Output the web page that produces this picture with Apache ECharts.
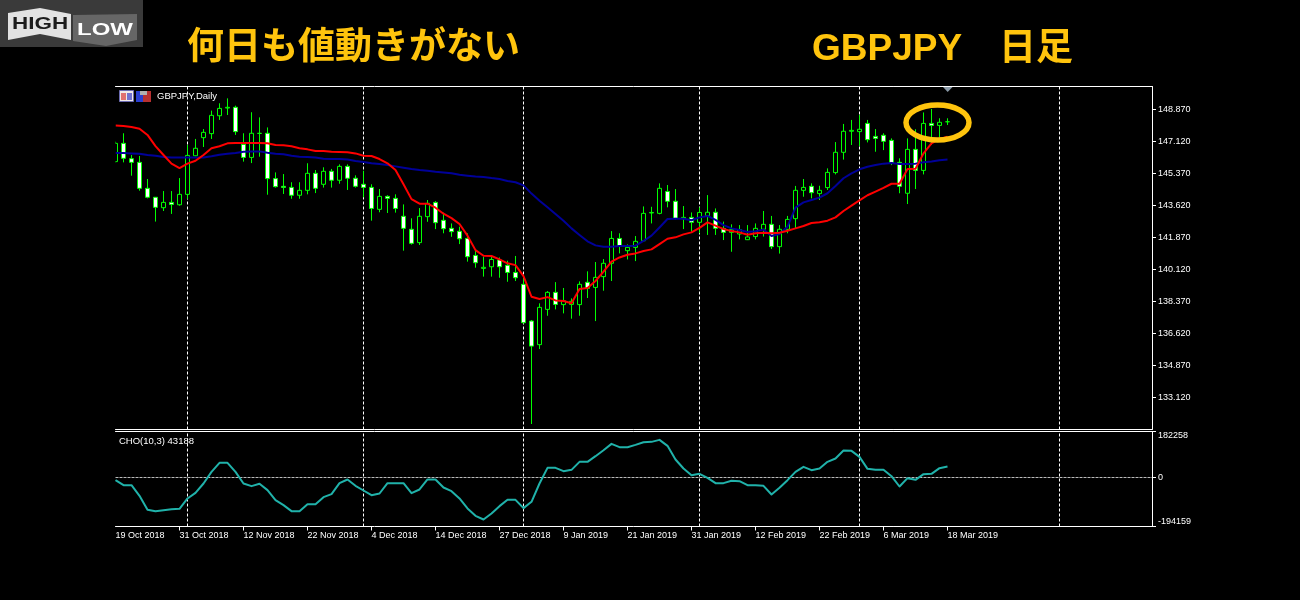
<!DOCTYPE html>
<html><head><meta charset="utf-8">
<style>html,body{margin:0;padding:0;background:#000}#c{width:1300px;height:600px}</style>
<script src="https://cdn.jsdelivr.net/npm/echarts@6/dist/echarts.min.js"></script>
</head><body><div id="c"></div>
<script>
const opens=[146.02,147.02,146.18,145.98,144.56,144.07,143.50,143.79,143.66,144.23,146.34,147.33,147.55,148.53,148.95,148.99,146.96,146.25,147.56,147.57,145.09,144.67,144.61,144.18,144.45,145.38,144.78,145.49,145.00,145.76,145.11,144.78,144.61,143.41,144.12,144.01,143.03,142.32,141.59,143.01,143.79,142.81,142.37,142.21,141.82,140.89,140.18,140.27,140.64,140.35,139.96,139.31,137.30,136.01,137.94,138.87,138.20,138.21,138.20,139.42,139.14,139.73,140.46,141.82,141.15,141.33,141.69,143.21,143.19,144.39,143.85,142.90,142.97,142.70,143.06,143.25,142.37,142.15,142.06,141.75,141.92,142.32,142.59,141.37,142.32,142.90,144.45,144.67,144.27,144.60,145.42,146.53,147.68,147.66,148.11,147.40,147.46,147.18,145.98,144.29,146.69,145.54,148.11,148.00,148.20];
const closes=[147.02,146.20,145.98,144.56,144.07,143.52,143.79,143.68,144.23,146.36,146.75,147.62,148.55,148.93,148.99,147.66,146.25,147.57,147.57,145.09,144.65,144.61,144.18,144.45,145.38,144.56,145.49,145.00,145.76,145.11,144.67,144.61,143.46,144.12,144.01,143.46,142.37,141.55,143.03,143.74,142.68,142.35,142.19,141.80,140.82,140.49,140.24,140.67,140.27,139.96,139.67,137.21,135.93,138.05,138.87,138.21,138.41,138.38,139.31,139.09,139.69,140.46,141.82,141.39,141.33,141.66,143.19,143.24,144.56,143.85,142.92,142.97,142.70,143.24,143.25,142.37,142.15,142.30,142.30,141.90,142.37,142.59,141.37,142.32,142.86,144.45,144.61,144.32,144.45,145.43,146.53,147.68,147.73,147.79,147.22,147.29,147.13,145.93,144.67,146.69,145.54,148.11,148.00,148.17,148.20];
const lows=[145.98,145.98,145.25,144.43,144.01,142.74,143.32,143.16,143.61,143.98,146.31,146.82,147.26,148.30,148.57,147.48,146.02,145.94,146.29,144.21,144.60,144.25,143.99,143.99,144.23,144.30,144.60,144.60,144.81,144.47,144.60,144.07,142.79,143.25,143.21,143.23,141.15,141.48,141.46,142.73,142.33,142.10,141.91,141.51,140.55,140.22,139.73,139.73,139.67,139.45,139.49,137.17,131.67,135.77,137.59,137.94,137.72,137.43,137.59,138.56,137.30,138.96,139.49,141.00,140.67,140.58,141.66,142.64,143.14,143.52,142.86,142.33,142.19,142.10,142.01,142.01,141.73,141.09,141.77,141.73,141.77,141.92,141.24,140.99,142.10,142.37,144.10,144.01,143.92,144.47,145.32,146.13,146.93,146.87,147.07,146.56,146.65,145.83,144.29,143.70,144.52,145.32,146.93,147.35,148.02];
const highs=[147.11,147.57,146.38,146.33,145.07,144.07,144.41,144.41,145.12,146.93,147.26,147.80,148.81,149.21,149.48,149.08,147.57,148.72,148.44,147.89,145.43,145.34,144.89,144.89,145.93,145.56,145.71,145.62,145.87,145.87,145.27,145.52,144.78,144.52,144.18,144.23,143.68,142.92,143.48,143.92,143.86,143.23,142.64,142.46,142.10,141.18,140.82,140.91,140.78,140.60,140.86,139.64,137.36,138.27,138.94,139.43,139.11,138.54,139.47,140.02,140.53,140.69,142.22,142.10,141.49,141.95,143.57,143.55,144.83,144.74,144.52,143.59,143.24,143.52,144.19,143.46,142.74,142.59,142.55,142.55,142.64,143.32,143.05,142.55,143.05,144.69,145.07,144.83,144.70,145.65,147.09,148.08,148.30,148.57,148.30,147.80,147.57,147.29,146.20,147.29,147.79,148.71,148.90,148.39,148.39];
const redLine=[147.99,147.97,147.91,147.82,147.48,146.87,146.38,145.91,145.67,145.91,146.07,146.38,146.75,146.86,147.02,147.04,147.04,147.04,147.04,147.02,146.93,146.91,146.86,146.75,146.69,146.60,146.60,146.56,146.55,146.53,146.47,146.34,146.33,146.16,145.93,145.56,144.78,143.97,143.72,143.72,143.50,143.17,142.93,142.61,141.97,141.18,140.87,140.86,140.67,140.46,140.36,139.76,138.63,138.51,138.61,138.43,138.40,138.27,139.05,139.11,139.49,140.00,140.55,140.78,140.93,141.00,141.13,141.22,141.51,141.80,141.88,142.04,142.15,142.40,142.70,142.52,142.33,142.22,142.15,142.02,142.10,142.13,142.10,142.13,142.24,142.37,142.50,142.66,142.70,142.79,142.97,143.32,143.61,143.90,144.18,144.38,144.58,144.81,144.81,145.62,145.63,146.47,147.02,147.26,147.38];
const blueLine=[146.49,146.49,146.47,146.45,146.38,146.34,146.27,146.24,146.24,146.24,146.24,146.25,146.31,146.40,146.45,146.49,146.56,146.58,146.58,146.51,146.45,146.42,146.34,146.29,146.27,146.24,146.18,146.16,146.16,146.13,146.05,146.00,145.93,145.89,145.83,145.76,145.69,145.62,145.56,145.52,145.47,145.43,145.38,145.30,145.25,145.20,145.18,145.12,145.07,144.96,144.89,144.72,144.27,143.88,143.52,143.15,142.79,142.37,142.01,141.66,141.44,141.37,141.37,141.40,141.40,141.42,141.68,141.97,142.42,142.88,142.90,142.90,142.81,142.97,143.05,142.83,142.55,142.37,142.28,142.17,142.21,142.30,141.95,142.06,142.46,143.50,143.79,143.92,144.05,144.29,144.69,145.11,145.38,145.60,145.74,145.83,145.91,145.94,145.89,145.89,145.91,145.98,146.03,146.09,146.13];
const choLine=[-10560,-30360,-30360,-72600,-128040,-133320,-129360,-125400,-124080,-83160,-60720,-23760,22440,58080,58080,22440,-23760,-34320,-25080,-50160,-89760,-109560,-133320,-133320,-105600,-105600,-77880,-66000,-22440,-7920,-33000,-51480,-69960,-63360,-22440,-22440,-22440,-62040,-47520,-7920,-7920,-39600,-54120,-83160,-122760,-151800,-166320,-142560,-113520,-88440,-88440,-121440,-96360,-23760,38280,38280,25080,30360,62040,62040,84480,108240,133320,120120,120120,129360,139920,141240,149160,125400,71280,35640,9240,14520,-1320,-22440,-22440,-13200,-14520,-30360,-30360,-33000,-67320,-40920,-10560,22440,42240,29040,35640,62040,75240,106920,105600,81840,34320,30360,30360,5280,-35640,-2640,-9240,13200,14520,36960,43188];
const dateLabels=['19 Oct 2018','31 Oct 2018','12 Nov 2018','22 Nov 2018','4 Dec 2018','14 Dec 2018','27 Dec 2018','9 Jan 2019','21 Jan 2019','31 Jan 2019','12 Feb 2019','22 Feb 2019','6 Mar 2019','18 Mar 2019'];
const dateBars=[0,8,16,24,32,40,48,56,64,72,80,88,96,104];
const separatorBars=[9,31,51,73,93,118];
const priceTicks=[148.87,147.12,145.37,143.62,141.87,140.12,138.37,136.62,134.87,133.12];
const choTicks=[182258,0,-194159];

const W='#ffffff',FONT='"Liberation Sans"',FS=9;
const xMax=129.5625;
const xBase=(gridIndex,position,extra)=>Object.assign({type:'value',gridIndex,position,min:0,max:xMax,
  splitLine:{show:false},axisTick:{show:false},axisLabel:{show:false},
  axisLine:{show:true,onZero:false,lineStyle:{color:W,width:1}}},extra||{});
const yBase=(gridIndex,min,max,ticks,fmt,extra)=>({type:'value',gridIndex,position:'right',min,max,
  splitLine:{show:false},
  axisLine:{show:true,onZero:false,lineStyle:{color:W,width:1}},
  axisTick:{show:true,length:4,customValues:ticks,lineStyle:{color:W}},
  axisLabel:Object.assign({show:true,customValues:ticks,formatter:fmt,color:W,fontFamily:FONT,fontSize:FS,margin:6,align:'left'},extra||{})});
const sep=()=>({silent:true,symbol:'none',z:1,animation:false,label:{show:false},
  lineStyle:{color:W,type:[3,2],width:1},data:separatorBars.map(x=>({xAxis:x}))});
const pts=a=>a.map((v,i)=>[i,v]);
const lineS=(name,xi,yi,data,color,z)=>({name,type:'line',xAxisIndex:xi,yAxisIndex:yi,data:pts(data),showSymbol:false,symbol:'none',
  z,clip:true,lineStyle:{color,width:2,join:'round'},itemStyle:{color},animation:false});
const T=(text,left,top,size,color,weight,family)=>({text,left,top,padding:0,textStyle:{color,fontSize:size,fontWeight:weight||'normal',fontFamily:family||FONT}});

const GOLD='#ffc40d';
const option={
  backgroundColor:'#000',animation:false,
  title:[
    T('何日も値動きがない',187,26,37,GOLD,'bold','"Noto Sans CJK JP"'),
    T('GBPJPY　日足',812,31,37,GOLD,'bold','"Liberation Sans","Noto Sans CJK JP"'),
    T('GBPJPY,Daily',157,91.5,9.5,W),
    T('CHO(10,3) 43188',119,436.5,9.5,W)
  ],
  grid:[
    {left:115.5,width:1036.5,top:86.5,height:343},
    {left:115.5,width:1036.5,top:431.5,height:95}
  ],
  xAxis:[
    xBase(0,'bottom'),
    xBase(0,'top'),
    xBase(1,'bottom',{
      axisTick:{show:true,length:4,customValues:dateBars.slice(1),lineStyle:{color:W}},
      axisLabel:{show:true,customValues:dateBars,formatter:v=>dateLabels[dateBars.indexOf(v)]||'',color:W,fontFamily:FONT,fontSize:FS,margin:5,align:'left'}}),
    xBase(1,'top')
  ],
  yAxis:[
    yBase(0,131.37,150.128,priceTicks,v=>v.toFixed(3)),
    yBase(1,-194159,182258,choTicks,v=>String(v),{verticalAlignMaxLabel:'bottom',verticalAlignMinLabel:'top'})
  ],
  series:[
    {type:'line',xAxisIndex:0,yAxisIndex:0,data:[],z:1,markLine:sep()},
    {type:'line',xAxisIndex:2,yAxisIndex:1,data:[],z:1,markLine:sep()},
    {type:'line',xAxisIndex:2,yAxisIndex:1,data:[],z:1,markLine:{silent:true,symbol:'none',z:1,animation:false,label:{show:false},
      lineStyle:{color:'#bbbbbb',type:[3,1],width:1},data:[{yAxis:0}]}},
    {name:'GBPJPY',type:'candlestick',xAxisIndex:0,yAxisIndex:0,z:3,barWidth:4,clip:true,animation:false,
      data:opens.map((o,i)=>[i,o,closes[i],lows[i],highs[i]]),
      itemStyle:{color:'#000000',color0:'#ffffff',borderColor:'#00ff00',borderColor0:'#00ff00',borderColorDoji:'#00ff00',borderWidth:1}},
    lineS('MA fast',0,0,redLine,'#ff0000',5),
    lineS('MA slow',0,0,blueLine,'#000099',4),
    lineS('CHO',2,1,choLine,'#20b2aa',4)
  ],
  graphic:[
    {type:'rect',z:90,shape:{x:100,y:87,width:15.5,height:342},style:{fill:'#000000'}},
    {type:'rect',z:100,shape:{x:0,y:0,width:143,height:47},style:{fill:'#3a3a3a'}},
    {type:'polygon',z:101,shape:{points:[[8,13],[40,8],[71,14],[71,40],[40,34],[8,40]]},style:{fill:'#e2e2e2'}},
    {type:'polygon',z:101,shape:{points:[[73,15],[137,14],[137,40],[106,46],[73,41]]},style:{fill:'#666666'}},
    {type:'text',z:102,x:12,y:15.5,style:{text:'HIGH',fill:'#1c1c1c',font:'bold 17px "Liberation Sans"'},scaleX:1.32},
    {type:'text',z:102,x:77,y:21.5,style:{text:'LOW',fill:'#ffffff',font:'bold 17px "Liberation Sans"'},scaleX:1.41},
    {type:'rect',z:100,shape:{x:119.5,y:90.5,width:14,height:11},style:{fill:'#f0e8e8',stroke:'#6a6ab0',lineWidth:1}},
    {type:'rect',z:101,shape:{x:121,y:93,width:5,height:7},style:{fill:'#e07070'}},
    {type:'rect',z:101,shape:{x:127,y:93,width:5,height:7},style:{fill:'#7070d0'}},
    {type:'rect',z:100,shape:{x:136,y:91,width:7,height:11},style:{fill:'#2a3fd0'}},
    {type:'rect',z:100,shape:{x:143,y:91,width:8,height:11},style:{fill:'#b83030'}},
    {type:'rect',z:101,shape:{x:140,y:91,width:7,height:4},style:{fill:'#b0b0b0'}},
    {type:'polygon',z:100,shape:{points:[[943,87],[952.5,87],[947.7,92]]},style:{fill:'#8a9aa8'}},
    {type:'ellipse',z:100,shape:{cx:937.5,cy:122.5,rx:31.5,ry:17.5},style:{fill:'none',stroke:GOLD,lineWidth:5.5}}
  ]
};
echarts.init(document.getElementById('c')).setOption(option);
</script></body></html>
